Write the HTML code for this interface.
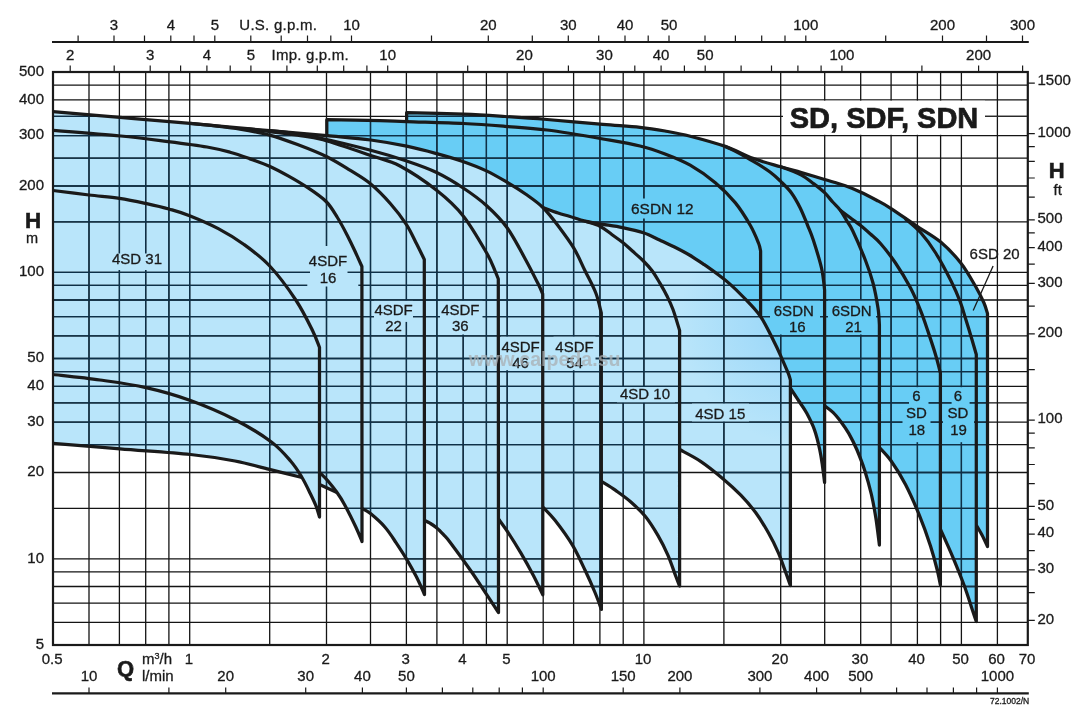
<!DOCTYPE html>
<html><head><meta charset="utf-8"><title>SD, SDF, SDN</title>
<style>html,body{margin:0;padding:0;background:#fff}body{width:1090px;height:717px;overflow:hidden}svg{display:block;will-change:transform;opacity:.9999}text{font-family:"Liberation Sans",sans-serif;fill:#1a1a1a;stroke:#1a1a1a;stroke-width:.3px}.b{font-weight:bold}</style></head><body>
<svg width="1090" height="717" viewBox="0 0 1090 717">
<defs><radialGradient id="lg" gradientUnits="userSpaceOnUse" cx="805" cy="320" r="125"><stop offset="0" stop-color="#92d5f8"/><stop offset="0.4" stop-color="#a3dbf9"/><stop offset="1" stop-color="#b9e5fa"/></radialGradient></defs>
<rect width="1090" height="717" fill="#fff"/>
<path d="M53 111.7C64.2 112.7 97.2 115.5 120 117.4C142.8 119.4 165.1 121.2 190 123.4C214.9 125.6 246.8 128.7 269.6 130.7C292.4 132.7 310 134 326.8 135.6C343.6 137.2 357.4 138.2 370.7 140C384 141.8 395.7 143.9 406.6 146.2C417.6 148.5 427 151 436.4 153.6C445.8 156.2 454.5 158.6 462.8 161.5C471.1 164.4 479 167.4 486.4 170.9C493.8 174.4 500.8 178.6 507.3 182.4C513.8 186.2 519.6 189.8 525.5 194C531.4 198.2 537.5 202.2 542.9 207.5L542.9 207.5C545.4 208.4 553.6 211.5 558.1 213C562.6 214.5 565.5 215.1 570 216.5C574.5 217.9 580 220 585 221.2C590 222.4 593.6 222.8 599.9 223.9C606.1 225 615.2 226.1 622.5 227.6C629.8 229.1 637.2 230.7 643.4 232.8C649.6 234.9 654.4 237.6 659.6 240C664.8 242.4 669.5 244.5 674.5 247C679.5 249.5 684.4 252.1 689.4 255C694.4 257.9 699.3 261.3 704.3 264.7C709.3 268.1 715 272.3 719.3 275.5C723.6 278.7 726.2 280.7 730 284.1C733.8 287.5 737.3 290.7 742.3 296C747.3 301.3 754.9 308.4 760.1 315.9C765.3 323.4 770.1 333.9 773.7 341C777.4 348.1 779.6 353.4 782 358.8C784.4 364.2 786.9 369.9 788.3 373.4C789.7 376.9 790 378.9 790.4 380L790.4 585.5L790.4 585.5C789.6 583.4 787.9 578.4 785.9 573C783.9 567.6 781.3 559.6 778.4 552.9C775.5 546.2 772.2 539.5 768.4 532.8C764.6 526.1 760.4 519.1 755.8 512.8C751.2 506.5 746.2 500.8 740.8 495.2C735.4 489.6 729.9 484.5 723.2 478.9C716.5 473.2 707.9 466.2 700.6 461.3C693.3 456.4 683.1 451.5 679.6 449.5L679.6 586L679.6 586C678.9 584.2 677.4 580.6 675.5 575.5C673.6 570.4 670.9 562.1 668 555.4C665.1 548.7 661.7 541.9 657.9 535.4C654.1 528.9 650 522.1 645.4 516.5C640.8 510.9 635.3 505.9 630.3 501.5C625.3 497.1 620.1 493.6 615.3 490.2C610.5 486.8 603.7 482.9 601.4 481.4L601.4 609.4L601.4 609.4C600.4 606.7 597.9 599.5 595.2 593C592.5 586.5 589 578.4 585.2 570.5C581.4 562.6 577.6 553.8 572.6 545.4C567.6 537 560 526.7 555 520.3C550 513.9 544.8 509.2 542.8 507L542.8 594.8L542.8 594.8C541.2 591.6 537.1 582.5 533.4 575.5C529.7 568.5 525 560 520.8 552.9C516.6 545.8 512 538.4 508.3 532.8C504.6 527.1 500.1 521.3 498.5 519L498.5 612.6L498.5 612.6C496.4 609.4 490.3 600.1 485.7 593.1C481.1 586.1 476.5 578.9 470.6 570.5C464.8 562.1 455.1 548.9 450.6 542.9C446.1 536.9 445.8 537.1 443.5 534.6C441.2 532.1 439.1 529.8 436.8 527.9C434.6 526 432.1 524.5 430 523.2C427.9 521.9 425.4 520.8 424.5 520.3L424.5 594.5L424.5 594.5C424.2 593.9 424.2 593.7 422.8 590.6C421.4 587.5 418.7 581.3 416 576.1C413.3 570.9 410 565 406.7 559.4C403.4 553.8 399.6 548 396 542.6C392.4 537.2 389.1 531.8 384.8 527C380.6 522.2 374.3 516.7 370.5 513.6C366.7 510.5 363.4 509.4 362 508.5L362 541.5L362 541.5C361 539.1 358.7 533.1 355.8 527C352.9 520.9 347.7 510.4 344.6 504.7C341.5 498.9 339.8 496.4 337 492.5L319.5 484.6L319.5 517L319.5 517C318.9 515.2 317.6 510 316 506C314.4 502 312.3 497.8 310 493C307.7 488.2 305.2 482.8 302 477.5L302 477.5C296.9 476.2 282.6 472.6 271.4 469.9C260.2 467.1 248.5 463.6 235 461C221.5 458.4 209.7 456.5 190.5 454.5C171.3 452.5 142.9 450.7 120 448.8C97.1 446.9 64.2 444.3 53 443.4Z" fill="url(#lg)"/>
<path d="M326.8 135.6L326.8 119.7L326.8 119.7C335.7 119.8 366.7 120.3 380 120.6C393.3 120.9 392.7 121.1 406.6 121.6L406.6 112.7L406.6 112.7C416.1 113 447.2 113.6 463.6 114.2C480 114.8 491.1 115.6 505 116.5C518.9 117.4 530.7 118.2 547 119.5C563.3 120.8 587.5 123 603 124.3C618.5 125.6 629.7 126.2 640 127.3C650.3 128.4 656.6 129.5 665 131C673.4 132.5 680.2 133.6 690.2 136.2C700.2 138.8 714.8 142.7 725.3 146.4C735.8 150.1 743.7 154.9 752.9 158.3C762.1 161.7 772.6 164.4 780.7 166.8C788.8 169.2 794.1 170.5 801.4 172.6C808.7 174.7 817.3 177.3 824.6 179.5C831.9 181.7 839.3 183.7 845.3 185.8C851.2 187.9 855.1 189.6 860.3 192C865.5 194.4 871.5 197.5 876.6 200.2C881.7 202.9 884.2 204.1 890.7 208.3C897.2 212.5 907.3 219.7 915.6 225.3C923.9 230.9 933.2 235.7 940.7 242C948.2 248.3 954.9 255.5 960.8 263C966.7 270.5 972 280.3 975.9 287C979.8 293.7 982.1 298.6 984 303C985.9 307.4 986.9 311.8 987.5 313.5L987.5 546.5L987.5 546.5C986.6 544.6 983.9 538.6 982 535C980.1 531.4 977.2 526.7 976.3 525L976.3 621.5L976.3 621.5C975.6 619.6 974.4 616.1 972.4 610C970.4 603.9 967.3 593.8 964 585C960.7 576.2 956.7 566.4 952.8 557.1C948.9 547.8 942.5 533.9 940.4 529.2L940.4 585L940.4 585C939.9 582.7 939.1 577.5 937.5 571C935.9 564.5 933.5 555.2 930.5 545.9C927.5 536.6 923.6 525.5 919.4 515.3C915.2 505.1 910.2 493.7 905.5 484.6C900.8 475.5 895.4 467 891 460.8C886.6 454.6 881.3 449.7 879.4 447.5L879.4 545L879.4 545C878.8 540.5 877.2 526.7 875.9 518.3C874.6 509.9 873.2 502.4 871.4 494.5C869.5 486.6 867.2 478.2 864.8 470.7C862.4 463.2 859.4 455.7 856.8 449.5C854.1 443.3 851.5 438.2 848.9 433.6C846.2 429 843.5 425.2 840.9 421.7C838.2 418.2 835.7 415 833 412.4C830.3 409.8 826 406.9 824.6 405.8L824.6 482.5L824.6 482.5C824.2 479.6 823.2 470.9 822.4 465.4C821.6 459.9 821 455.5 819.7 449.5C818.4 443.5 816.6 435.7 814.4 429.6C812.2 423.5 809.1 417.7 806.5 412.8C803.9 407.9 801.2 404.6 798.5 400.5C795.8 396.4 791.8 390.3 790.4 388.3L790.4 380L790.4 380C790 378.9 789.7 376.9 788.3 373.4C786.9 369.9 784.4 364.2 782 358.8C779.6 353.4 777.4 348.1 773.7 341C770.1 333.9 765.3 323.4 760.1 315.9C754.9 308.4 747.3 301.3 742.3 296C737.3 290.7 733.8 287.5 730 284.1C726.2 280.7 723.6 278.7 719.3 275.5C715 272.3 709.3 268.1 704.3 264.7C699.3 261.3 694.4 257.9 689.4 255C684.4 252.1 679.5 249.5 674.5 247C669.5 244.5 664.8 242.4 659.6 240C654.4 237.6 649.6 234.9 643.4 232.8C637.2 230.7 629.8 229.1 622.5 227.6C615.2 226.1 606.1 225 599.9 223.9C593.6 222.8 590 222.4 585 221.2C580 220 574.5 217.9 570 216.5C565.5 215.1 562.6 214.5 558.1 213C553.6 211.5 545.4 208.4 542.9 207.5L542.9 207.5C537.5 202.2 531.4 198.2 525.5 194C519.6 189.8 513.8 186.2 507.3 182.4C500.8 178.6 493.8 174.4 486.4 170.9C479 167.4 471.1 164.4 462.8 161.5C454.5 158.6 445.8 156.2 436.4 153.6C427 151 417.6 148.5 406.6 146.2C395.7 143.9 384 141.8 370.7 140C357.4 138.2 343.6 137.2 326.8 135.6Z" fill="#68cdf5"/>
<path d="M89 72V645M119.4 72V645M145.7 72V645M168.9 72V645M189.7 72V645M269.7 72V645M326.5 72V645M370.5 72V645M406.4 72V645M436.9 72V645M463.2 72V645M486.4 72V645M507.2 72V645M543.2 72V645M573.6 72V645M599.9 72V645M623.2 72V645M643.9 72V645M723.9 72V645M780.7 72V645M824.7 72V645M860.7 72V645M891.1 72V645M917.4 72V645M940.6 72V645M961.4 72V645M997.4 72V645M53 622.3H1027.8M53 603.1H1027.8M53 586.5H1027.8M53 571.9H1027.8M53 558.8H1027.8M53 508.3H1027.8M53 472.5H1027.8M53 444.7H1027.8M53 422.1H1027.8M53 402.9H1027.8M53 386.3H1027.8M53 371.6H1027.8M53 358.5H1027.8M53 335.8H1027.8M53 316.6H1027.8M53 300H1027.8M53 285.4H1027.8M53 272.3H1027.8M53 221.8H1027.8M53 186H1027.8M53 158.2H1027.8M53 135.6H1027.8M53 116.4H1027.8M53 99.8H1027.8M53 85.1H1027.8" stroke="#141414" stroke-width="1.3" fill="none"/>
<clipPath id="cp"><path d="M53 111.7C64.2 112.7 97.2 115.5 120 117.4C142.8 119.4 165.1 121.2 190 123.4C214.9 125.6 246.8 128.7 269.6 130.7C292.4 132.7 310 134 326.8 135.6C343.6 137.2 357.4 138.2 370.7 140C384 141.8 395.7 143.9 406.6 146.2C417.6 148.5 427 151 436.4 153.6C445.8 156.2 454.5 158.6 462.8 161.5C471.1 164.4 479 167.4 486.4 170.9C493.8 174.4 500.8 178.6 507.3 182.4C513.8 186.2 519.6 189.8 525.5 194C531.4 198.2 537.5 202.2 542.9 207.5L542.9 207.5C545.4 208.4 553.6 211.5 558.1 213C562.6 214.5 565.5 215.1 570 216.5C574.5 217.9 580 220 585 221.2C590 222.4 593.6 222.8 599.9 223.9C606.1 225 615.2 226.1 622.5 227.6C629.8 229.1 637.2 230.7 643.4 232.8C649.6 234.9 654.4 237.6 659.6 240C664.8 242.4 669.5 244.5 674.5 247C679.5 249.5 684.4 252.1 689.4 255C694.4 257.9 699.3 261.3 704.3 264.7C709.3 268.1 715 272.3 719.3 275.5C723.6 278.7 726.2 280.7 730 284.1C733.8 287.5 737.3 290.7 742.3 296C747.3 301.3 754.9 308.4 760.1 315.9C765.3 323.4 770.1 333.9 773.7 341C777.4 348.1 779.6 353.4 782 358.8C784.4 364.2 786.9 369.9 788.3 373.4C789.7 376.9 790 378.9 790.4 380L790.4 585.5L790.4 585.5C789.6 583.4 787.9 578.4 785.9 573C783.9 567.6 781.3 559.6 778.4 552.9C775.5 546.2 772.2 539.5 768.4 532.8C764.6 526.1 760.4 519.1 755.8 512.8C751.2 506.5 746.2 500.8 740.8 495.2C735.4 489.6 729.9 484.5 723.2 478.9C716.5 473.2 707.9 466.2 700.6 461.3C693.3 456.4 683.1 451.5 679.6 449.5L679.6 586L679.6 586C678.9 584.2 677.4 580.6 675.5 575.5C673.6 570.4 670.9 562.1 668 555.4C665.1 548.7 661.7 541.9 657.9 535.4C654.1 528.9 650 522.1 645.4 516.5C640.8 510.9 635.3 505.9 630.3 501.5C625.3 497.1 620.1 493.6 615.3 490.2C610.5 486.8 603.7 482.9 601.4 481.4L601.4 609.4L601.4 609.4C600.4 606.7 597.9 599.5 595.2 593C592.5 586.5 589 578.4 585.2 570.5C581.4 562.6 577.6 553.8 572.6 545.4C567.6 537 560 526.7 555 520.3C550 513.9 544.8 509.2 542.8 507L542.8 594.8L542.8 594.8C541.2 591.6 537.1 582.5 533.4 575.5C529.7 568.5 525 560 520.8 552.9C516.6 545.8 512 538.4 508.3 532.8C504.6 527.1 500.1 521.3 498.5 519L498.5 612.6L498.5 612.6C496.4 609.4 490.3 600.1 485.7 593.1C481.1 586.1 476.5 578.9 470.6 570.5C464.8 562.1 455.1 548.9 450.6 542.9C446.1 536.9 445.8 537.1 443.5 534.6C441.2 532.1 439.1 529.8 436.8 527.9C434.6 526 432.1 524.5 430 523.2C427.9 521.9 425.4 520.8 424.5 520.3L424.5 594.5L424.5 594.5C424.2 593.9 424.2 593.7 422.8 590.6C421.4 587.5 418.7 581.3 416 576.1C413.3 570.9 410 565 406.7 559.4C403.4 553.8 399.6 548 396 542.6C392.4 537.2 389.1 531.8 384.8 527C380.6 522.2 374.3 516.7 370.5 513.6C366.7 510.5 363.4 509.4 362 508.5L362 541.5L362 541.5C361 539.1 358.7 533.1 355.8 527C352.9 520.9 347.7 510.4 344.6 504.7C341.5 498.9 339.8 496.4 337 492.5L319.5 484.6L319.5 517L319.5 517C318.9 515.2 317.6 510 316 506C314.4 502 312.3 497.8 310 493C307.7 488.2 305.2 482.8 302 477.5L302 477.5C296.9 476.2 282.6 472.6 271.4 469.9C260.2 467.1 248.5 463.6 235 461C221.5 458.4 209.7 456.5 190.5 454.5C171.3 452.5 142.9 450.7 120 448.8C97.1 446.9 64.2 444.3 53 443.4Z"/><path d="M326.8 135.6L326.8 119.7L326.8 119.7C335.7 119.8 366.7 120.3 380 120.6C393.3 120.9 392.7 121.1 406.6 121.6L406.6 112.7L406.6 112.7C416.1 113 447.2 113.6 463.6 114.2C480 114.8 491.1 115.6 505 116.5C518.9 117.4 530.7 118.2 547 119.5C563.3 120.8 587.5 123 603 124.3C618.5 125.6 629.7 126.2 640 127.3C650.3 128.4 656.6 129.5 665 131C673.4 132.5 680.2 133.6 690.2 136.2C700.2 138.8 714.8 142.7 725.3 146.4C735.8 150.1 743.7 154.9 752.9 158.3C762.1 161.7 772.6 164.4 780.7 166.8C788.8 169.2 794.1 170.5 801.4 172.6C808.7 174.7 817.3 177.3 824.6 179.5C831.9 181.7 839.3 183.7 845.3 185.8C851.2 187.9 855.1 189.6 860.3 192C865.5 194.4 871.5 197.5 876.6 200.2C881.7 202.9 884.2 204.1 890.7 208.3C897.2 212.5 907.3 219.7 915.6 225.3C923.9 230.9 933.2 235.7 940.7 242C948.2 248.3 954.9 255.5 960.8 263C966.7 270.5 972 280.3 975.9 287C979.8 293.7 982.1 298.6 984 303C985.9 307.4 986.9 311.8 987.5 313.5L987.5 546.5L987.5 546.5C986.6 544.6 983.9 538.6 982 535C980.1 531.4 977.2 526.7 976.3 525L976.3 621.5L976.3 621.5C975.6 619.6 974.4 616.1 972.4 610C970.4 603.9 967.3 593.8 964 585C960.7 576.2 956.7 566.4 952.8 557.1C948.9 547.8 942.5 533.9 940.4 529.2L940.4 585L940.4 585C939.9 582.7 939.1 577.5 937.5 571C935.9 564.5 933.5 555.2 930.5 545.9C927.5 536.6 923.6 525.5 919.4 515.3C915.2 505.1 910.2 493.7 905.5 484.6C900.8 475.5 895.4 467 891 460.8C886.6 454.6 881.3 449.7 879.4 447.5L879.4 545L879.4 545C878.8 540.5 877.2 526.7 875.9 518.3C874.6 509.9 873.2 502.4 871.4 494.5C869.5 486.6 867.2 478.2 864.8 470.7C862.4 463.2 859.4 455.7 856.8 449.5C854.1 443.3 851.5 438.2 848.9 433.6C846.2 429 843.5 425.2 840.9 421.7C838.2 418.2 835.7 415 833 412.4C830.3 409.8 826 406.9 824.6 405.8L824.6 482.5L824.6 482.5C824.2 479.6 823.2 470.9 822.4 465.4C821.6 459.9 821 455.5 819.7 449.5C818.4 443.5 816.6 435.7 814.4 429.6C812.2 423.5 809.1 417.7 806.5 412.8C803.9 407.9 801.2 404.6 798.5 400.5C795.8 396.4 791.8 390.3 790.4 388.3L790.4 380L790.4 380C790 378.9 789.7 376.9 788.3 373.4C786.9 369.9 784.4 364.2 782 358.8C779.6 353.4 777.4 348.1 773.7 341C770.1 333.9 765.3 323.4 760.1 315.9C754.9 308.4 747.3 301.3 742.3 296C737.3 290.7 733.8 287.5 730 284.1C726.2 280.7 723.6 278.7 719.3 275.5C715 272.3 709.3 268.1 704.3 264.7C699.3 261.3 694.4 257.9 689.4 255C684.4 252.1 679.5 249.5 674.5 247C669.5 244.5 664.8 242.4 659.6 240C654.4 237.6 649.6 234.9 643.4 232.8C637.2 230.7 629.8 229.1 622.5 227.6C615.2 226.1 606.1 225 599.9 223.9C593.6 222.8 590 222.4 585 221.2C580 220 574.5 217.9 570 216.5C565.5 215.1 562.6 214.5 558.1 213C553.6 211.5 545.4 208.4 542.9 207.5L542.9 207.5C537.5 202.2 531.4 198.2 525.5 194C519.6 189.8 513.8 186.2 507.3 182.4C500.8 178.6 493.8 174.4 486.4 170.9C479 167.4 471.1 164.4 462.8 161.5C454.5 158.6 445.8 156.2 436.4 153.6C427 151 417.6 148.5 406.6 146.2C395.7 143.9 384 141.8 370.7 140C357.4 138.2 343.6 137.2 326.8 135.6Z"/></clipPath>
<path d="M89 72V645M119.4 72V645M145.7 72V645M168.9 72V645M189.7 72V645M269.7 72V645M326.5 72V645M370.5 72V645M406.4 72V645M436.9 72V645M463.2 72V645M486.4 72V645M507.2 72V645M543.2 72V645M573.6 72V645M599.9 72V645M623.2 72V645M643.9 72V645M723.9 72V645M780.7 72V645M824.7 72V645M860.7 72V645M891.1 72V645M917.4 72V645M940.6 72V645M961.4 72V645M997.4 72V645M53 622.3H1027.8M53 603.1H1027.8M53 586.5H1027.8M53 571.9H1027.8M53 558.8H1027.8M53 508.3H1027.8M53 472.5H1027.8M53 444.7H1027.8M53 422.1H1027.8M53 402.9H1027.8M53 386.3H1027.8M53 371.6H1027.8M53 358.5H1027.8M53 335.8H1027.8M53 316.6H1027.8M53 300H1027.8M53 285.4H1027.8M53 272.3H1027.8M53 221.8H1027.8M53 186H1027.8M53 158.2H1027.8M53 135.6H1027.8M53 116.4H1027.8M53 99.8H1027.8M53 85.1H1027.8" stroke="#0d3048" stroke-width="1.3" fill="none" clip-path="url(#cp)"/>
<rect x="106" y="253.5" width="58" height="16.5" fill="url(#lg)"/>
<rect x="310" y="246" width="37.5" height="28" fill="url(#lg)"/>
<rect x="307.3" y="274" width="51" height="12.5" fill="url(#lg)"/>
<rect x="374" y="300.9" width="39" height="21" fill="url(#lg)"/>
<rect x="440" y="300.9" width="42.5" height="33.6" fill="url(#lg)"/>
<rect x="501" y="336.7" width="40" height="33.5" fill="url(#lg)"/>
<rect x="553.5" y="336.7" width="42" height="33.5" fill="url(#lg)"/>
<rect x="617" y="387" width="58" height="15.3" fill="url(#lg)"/>
<rect x="692" y="403.6" width="57" height="17.8" fill="url(#lg)"/>
<rect x="630" y="198.5" width="68" height="20" fill="#68cdf5"/>
<rect x="770" y="300.7" width="50" height="33.8" fill="#68cdf5"/>
<rect x="828" y="300.7" width="48" height="33.8" fill="#68cdf5"/>
<rect x="909" y="390" width="19.5" height="14" fill="#68cdf5"/>
<rect x="902.5" y="407" width="28" height="16" fill="#68cdf5"/>
<rect x="914" y="387.2" width="7" height="55" fill="#68cdf5"/>
<rect x="951.6" y="390" width="18" height="14" fill="#68cdf5"/>
<rect x="943" y="407" width="31" height="16" fill="#68cdf5"/>
<rect x="958" y="387.2" width="7" height="55" fill="#68cdf5"/>
<rect x="783" y="100.7" width="202" height="34.1" fill="#fff"/>
<g stroke="#1a1a1a" stroke-width="3.25" fill="none" stroke-linejoin="round" stroke-linecap="butt">
<path d="M53 111.7C64.2 112.7 97.2 115.5 120 117.4C142.8 119.4 165.1 121.2 190 123.4C214.9 125.6 246.8 128.7 269.6 130.7C292.4 132.7 310 134 326.8 135.6C343.6 137.2 357.4 138.2 370.7 140C384 141.8 395.7 143.9 406.6 146.2C417.6 148.5 427 151 436.4 153.6C445.8 156.2 454.5 158.6 462.8 161.5C471.1 164.4 479 167.4 486.4 170.9C493.8 174.4 500.8 178.6 507.3 182.4C513.8 186.2 519.6 189.8 525.5 194C531.4 198.2 537.5 202.2 542.9 207.5C548.3 212.8 553 219 558.1 225.8C563.2 232.6 569.3 240.7 573.8 248.1C578.3 255.5 581.2 262.9 584.9 270.5C588.6 278.1 593.3 286.4 596 293.5C598.7 300.6 600.4 309.8 601.3 313L601.4 609.4L601.4 609.4C600.4 606.7 597.9 599.5 595.2 593C592.5 586.5 589 578.4 585.2 570.5C581.4 562.6 577.6 553.8 572.6 545.4C567.6 537 560 526.7 555 520.3C550 513.9 544.8 509.2 542.8 507"/>
<path d="M269.6 130.7C273 131 281.6 131.6 290 132.8C298.4 134 306.6 135.1 320 138C333.4 140.9 356.3 146.5 370.7 150.3C385.1 154.1 395.6 157.3 406.6 161C417.6 164.7 427.2 168 436.6 172.5C446 177 454.9 182.5 463.2 188C471.5 193.5 479 198.8 486.4 205.5C493.8 212.2 500.8 219 507.3 228C513.8 237 520.4 250.2 525.5 259.5C530.6 268.8 535.1 277.8 538 283.5C540.9 289.2 541.9 292.2 542.7 294L542.8 594.8L542.8 594.8C541.2 591.6 537.1 582.5 533.4 575.5C529.7 568.5 525 560 520.8 552.9C516.6 545.8 512 538.4 508.3 532.8C504.6 527.1 500.1 521.3 498.5 519"/>
<path d="M245 128.6C254.2 129.6 261.2 130.5 270 131.6C278.8 132.7 288.7 133.7 297.5 135.1C306.3 136.5 310.8 136.4 323 139.8C335.2 143.2 357.9 151.1 370.7 155.5C383.5 159.9 389 160.2 400 166C411 171.8 426.1 182 436.6 190.3C447.1 198.6 454.9 205.5 463.2 215.9C471.5 226.3 481.1 243.3 486.4 252.5C491.7 261.7 493.2 266.9 495.2 271.3C497.2 275.7 497.8 277.7 498.3 279L498.5 612.6L498.5 612.6C496.4 609.4 490.3 600.1 485.7 593.1C481.1 586.1 476.5 578.9 470.6 570.5C464.8 562.1 455.1 548.9 450.6 542.9C446.1 536.9 445.8 537.1 443.5 534.6C441.2 532.1 439.1 529.8 436.8 527.9C434.6 526 432.1 524.5 430 523.2C427.9 521.9 425.4 520.8 424.5 520.3"/>
<path d="M190 123.4C194.2 123.8 206.7 124.9 215 125.9C223.3 126.9 230.9 127.7 240 129.2C249.1 130.7 260 132.5 269.6 135.1C279.2 137.7 288 141 297.5 144.6C307 148.2 318.1 152.5 326.8 156.8C335.5 161.1 342.6 165.7 349.9 170.2C357.2 174.7 363.9 178.4 370.7 184C377.5 189.6 384.6 197 390.5 203.7C396.4 210.4 401.9 217.6 406.3 224.3C410.7 231 413.7 238.2 416.7 244.1C419.7 250 423 256.9 424.3 259.5L424.5 594.5L424.5 594.5C424.2 593.9 424.2 593.7 422.8 590.6C421.4 587.5 418.7 581.3 416 576.1C413.3 570.9 410 565 406.7 559.4C403.4 553.8 399.6 548 396 542.6C392.4 537.2 389.1 531.8 384.8 527C380.6 522.2 374.3 516.7 370.5 513.6C366.7 510.5 363.4 509.4 362 508.5"/>
<path d="M53 130.4C64.3 131.3 101.6 134.1 120.8 136C140 137.9 153.6 139.8 168 141.6C182.4 143.4 196.7 145.2 207 147C217.3 148.8 222.9 150.3 230 152.2C237.1 154.1 242.8 156.2 249.5 158.6C256.2 161 263.5 163.5 270 166.4C276.5 169.3 282.2 172.5 288.6 176.1C295 179.7 301.9 183.7 308.1 187.9C314.4 192.1 321.2 196.6 326.1 201.5C331 206.4 333.9 211.9 337.4 217.5C340.9 223.1 344.3 229.6 347.2 235.2C350.1 240.8 352.6 246.1 355 251.3C357.4 256.5 360.8 264 361.9 266.5L362 541.5L362 541.5C361 539.1 358.7 533.1 355.8 527C352.9 520.9 347.7 510.4 344.6 504.7C341.5 498.9 339.8 496.4 337 492.5C334.2 488.6 330.9 484.4 328 481C325.1 477.6 320.9 473.8 319.5 472.3"/>
<path d="M319.5 484.6C322.4 485.9 334.1 491.2 337 492.5"/>
<path d="M53 190.5C59 191.2 77.9 193.7 89 195C100.1 196.3 110 196.9 119.4 198.3C128.8 199.7 137.4 201.6 145.6 203.4C153.8 205.2 161.5 206.9 168.8 209C176.1 211.1 181.3 212.4 189.6 215.7C197.8 219 209.2 223.8 218.3 228.6C227.4 233.4 235.4 238.3 244 244.5C252.6 250.7 261.1 256.8 269.7 266C278.3 275.2 288.7 289.2 295.8 300C302.9 310.8 308.6 322.6 312.5 330.5C316.4 338.4 318.3 344.5 319.5 347.3L319.5 517L319.5 517C318.9 515.2 317.6 510 316 506C314.4 502 312.3 497.8 310 493C307.7 488.2 305.2 482.8 302 477.5C298.8 472.2 296.1 467.4 291 461.5C285.9 455.6 280.7 449 271.4 442C262.1 435 248.5 426.6 235 419.7C221.5 412.8 205.3 405.9 190.5 400.5C175.7 395.1 161.1 391 146 387.6C130.9 384.2 115.5 382.2 100 380C84.5 377.8 60.8 375.4 53 374.5"/>
<path d="M53 443.4C64.2 444.3 97.1 446.9 120 448.8C142.9 450.7 171.3 452.5 190.5 454.5C209.7 456.5 221.5 458.4 235 461C248.5 463.6 260.2 467.1 271.4 469.9C282.6 472.6 296.9 476.2 302 477.5"/>
<path d="M542.9 207.5C545.4 208.4 553.6 211.5 558.1 213C562.6 214.5 565.5 215.1 570 216.5C574.5 217.9 580 220 585 221.2C590 222.4 593.6 222.8 599.9 223.9C606.1 225 615.2 226.1 622.5 227.6C629.8 229.1 637.2 230.7 643.4 232.8C649.6 234.9 654.4 237.6 659.6 240C664.8 242.4 669.5 244.5 674.5 247C679.5 249.5 684.4 252.1 689.4 255C694.4 257.9 699.3 261.3 704.3 264.7C709.3 268.1 715 272.3 719.3 275.5C723.6 278.7 726.2 280.7 730 284.1C733.8 287.5 737.3 290.7 742.3 296C747.3 301.3 754.9 308.4 760.1 315.9C765.3 323.4 770.1 333.9 773.7 341C777.4 348.1 779.6 353.4 782 358.8C784.4 364.2 786.9 369.9 788.3 373.4C789.7 376.9 790 378.9 790.4 380L790.4 585.5L790.4 585.5C789.6 583.4 787.9 578.4 785.9 573C783.9 567.6 781.3 559.6 778.4 552.9C775.5 546.2 772.2 539.5 768.4 532.8C764.6 526.1 760.4 519.1 755.8 512.8C751.2 506.5 746.2 500.8 740.8 495.2C735.4 489.6 729.9 484.5 723.2 478.9C716.5 473.2 707.9 466.2 700.6 461.3C693.3 456.4 683.1 451.5 679.6 449.5"/>
<path d="M585 221.2C590 222.8 595.4 224 599.9 226.2C604.4 228.4 608 231.8 611.8 234.5C615.6 237.2 619 239.5 622.5 242.3C626 245.1 629.2 248.2 632.7 251.3C636.2 254.4 640.2 257.8 643.4 261C646.6 264.2 649.4 267.1 652.1 270.7C654.8 274.3 657.1 278.4 659.6 282.6C662.1 286.8 664.8 291.5 667 296C669.2 300.5 670.9 303.8 673 309.5C675.1 315.2 678.5 326.9 679.6 330.4L679.6 586L679.6 586C678.9 584.2 677.4 580.6 675.5 575.5C673.6 570.4 670.9 562.1 668 555.4C665.1 548.7 661.7 541.9 657.9 535.4C654.1 528.9 650 522.1 645.4 516.5C640.8 510.9 635.3 505.9 630.3 501.5C625.3 497.1 620.1 493.6 615.3 490.2C610.5 486.8 603.7 482.9 601.4 481.4"/>
<path d="M326.8 136L326.8 119.7L326.8 119.7C335.7 119.8 366.7 120.3 380 120.6C393.3 120.9 392.7 121.1 406.6 121.6C420.5 122.1 447.2 122.7 463.6 123.5C480 124.3 491.1 125.2 505 126.3C518.9 127.4 530.7 127.9 547 130C563.3 132.1 587.5 136.3 603 139C618.5 141.7 629.7 143.5 640 146C650.3 148.5 656.6 150.8 665 154C673.4 157.2 681.8 160.4 690.2 165.2C698.6 170 707.8 176.5 715.3 182.8C722.8 189.1 729.5 195.8 735.4 202.9C741.2 210 746.5 218.8 750.4 225.5C754.2 232.2 756.8 238.8 758.5 243C760.2 247.2 760.2 249.7 760.6 251L760.6 316.5"/>
<path d="M406.6 122L406.6 112.7L406.6 112.7C416.1 113 447.2 113.6 463.6 114.2C480 114.8 491.1 115.6 505 116.5C518.9 117.4 530.7 118.2 547 119.5C563.3 120.8 587.5 123 603 124.3C618.5 125.6 629.7 126.2 640 127.3C650.3 128.4 656.6 129.5 665 131C673.4 132.5 680.2 133.6 690.2 136.2C700.2 138.8 714.8 142.7 725.3 146.4C735.8 150.1 743.7 154.9 752.9 158.3C762.1 161.7 772.6 164.4 780.7 166.8C788.8 169.2 794.1 170.5 801.4 172.6C808.7 174.7 817.3 177.3 824.6 179.5C831.9 181.7 839.3 183.7 845.3 185.8C851.2 187.9 855.1 189.6 860.3 192C865.5 194.4 871.5 197.5 876.6 200.2C881.7 202.9 884.2 204.1 890.7 208.3C897.2 212.5 907.3 219.7 915.6 225.3C923.9 230.9 933.2 235.7 940.7 242C948.2 248.3 954.9 255.5 960.8 263C966.7 270.5 972 280.3 975.9 287C979.8 293.7 982.1 298.6 984 303C985.9 307.4 986.9 311.8 987.5 313.5L987.5 546.5L987.5 546.5C986.6 544.6 983.9 538.6 982 535C980.1 531.4 977.2 526.7 976.3 525"/>
<path d="M725.3 146.6C735.8 150.8 745.4 157 752.9 161.2C760.4 165.4 765.4 168.6 770 172C774.6 175.4 777.2 178 780.7 181.4C784.2 184.8 788.1 188.3 791.3 192.7C794.5 197.1 797.4 202.3 800.1 207.7C802.8 213.1 805.4 219.9 807.6 225.3C809.8 230.7 811 232.9 813.3 240C815.6 247.1 819.6 259.7 821.5 268C823.4 276.3 824.1 286.3 824.6 290L824.6 482.5L824.6 482.5C824.2 479.6 823.2 470.9 822.4 465.4C821.6 459.9 821 455.5 819.7 449.5C818.4 443.5 816.6 435.7 814.4 429.6C812.2 423.5 809.1 417.7 806.5 412.8C803.9 407.9 801.2 404.6 798.5 400.5C795.8 396.4 791.8 390.3 790.4 388.3"/>
<path d="M780.7 166.8C788.8 169.6 795.9 172.2 801.4 175.1C806.9 177.9 810 181 813.9 183.9C817.8 186.8 821.5 189.7 824.6 192.7C827.7 195.7 830.1 199.1 832.7 202C835.3 204.9 838 207.1 840.3 210.2C842.6 213.2 844.4 216.8 846.5 220.3C848.6 223.8 849.6 224.3 852.8 231C856 237.7 862.1 251.8 865.5 260.5C868.9 269.2 870.9 275.1 873 283C875.1 290.9 876.9 301 878 308C879.1 315 879.2 322.2 879.4 325L879.4 545L879.4 545C878.8 540.5 877.2 526.7 875.9 518.3C874.6 509.9 873.2 502.4 871.4 494.5C869.5 486.6 867.2 478.2 864.8 470.7C862.4 463.2 859.4 455.7 856.8 449.5C854.1 443.3 851.5 438.2 848.9 433.6C846.2 429 843.5 425.2 840.9 421.7C838.2 418.2 835.7 415 833 412.4C830.3 409.8 826 406.9 824.6 405.8"/>
<path d="M840.3 210.2C842 211.5 847 215.3 850.3 217.8C853.6 220.3 856.9 222.6 860.3 225.3C863.6 228 867 231 870.4 234C873.8 237 876.3 238.7 880.5 243.5C884.7 248.3 890.5 255.6 895.5 263C900.5 270.4 906.4 280.2 910.6 288.1C914.8 296.1 917.8 303.7 920.6 310.7C923.4 317.7 925 322.6 927.5 330C930 337.4 933.6 348 935.7 355.2C937.9 362.4 939.6 370 940.4 373L940.4 585L940.4 585C939.9 582.7 939.1 577.5 937.5 571C935.9 564.5 933.5 555.2 930.5 545.9C927.5 536.6 923.6 525.5 919.4 515.3C915.2 505.1 910.2 493.7 905.5 484.6C900.8 475.5 895.4 467 891 460.8C886.6 454.6 881.3 449.7 879.4 447.5"/>
<path d="M905 218.5C910 222.5 915.5 226.8 920.6 232.5C925.7 238.2 930.7 245 935.7 253C940.7 261 946.7 272.4 950.8 280.6C954.9 288.8 957.8 295.4 960.3 302C962.8 308.6 964 313.7 966 320C968 326.3 970.4 334.2 972.1 340C973.8 345.8 975.6 352.1 976.3 354.5L976.3 621.5L976.3 621.5C975.6 619.6 974.4 616.1 972.4 610C970.4 603.9 967.3 593.8 964 585C960.7 576.2 956.7 566.4 952.8 557.1C948.9 547.8 942.5 533.9 940.4 529.2"/>
</g>
<rect x="53" y="72" width="974.8" height="573" fill="none" stroke="#1a1a1a" stroke-width="2.2"/>
<path d="M52 42H1028.8" stroke="#1a1a1a" stroke-width="2.2" fill="none"/>
<path d="M78.1 35.5V42M114 35.5V42M144.5 35.5V42M170.8 35.5V42M194 35.5V42M214.8 35.5V42M250.8 35.5V42M281.2 35.5V42M307.5 35.5V42M330.8 35.5V42M351.5 35.5V42M431.5 35.5V42M488.3 35.5V42M532.3 35.5V42M568.3 35.5V42M598.7 35.5V42M625 35.5V42M648.2 35.5V42M669 35.5V42M705 35.5V42M735.4 35.5V42M761.7 35.5V42M785 35.5V42M805.8 35.5V42M885.7 35.5V42M942.5 35.5V42M986.5 35.5V42M1022.5 35.5V42" stroke="#1a1a1a" stroke-width="1.2" fill="none"/>
<path d="M70.2 65.5V72M114.2 65.5V72M150.2 65.5V72M180.6 65.5V72M206.9 65.5V72M230.2 65.5V72M250.9 65.5V72M286.9 65.5V72M317.3 65.5V72M343.7 65.5V72M366.9 65.5V72M387.7 65.5V72M467.7 65.5V72M524.4 65.5V72M568.4 65.5V72M604.4 65.5V72M634.8 65.5V72M661.1 65.5V72M684.4 65.5V72M705.2 65.5V72M741.1 65.5V72M771.5 65.5V72M797.9 65.5V72M821.1 65.5V72M841.9 65.5V72M921.9 65.5V72M978.6 65.5V72M1022.6 65.5V72" stroke="#1a1a1a" stroke-width="1.2" fill="none"/>
<path d="M52 693.4H1028.8" stroke="#1a1a1a" stroke-width="2.2" fill="none"/>
<path d="M89 687.5V693M168.9 687.5V693M225.7 687.5V693M305.7 687.5V693M362.4 687.5V693M406.4 687.5V693M442.4 687.5V693M472.8 687.5V693M499.2 687.5V693M522.4 687.5V693M543.2 687.5V693M623.2 687.5V693M679.9 687.5V693M759.9 687.5V693M816.6 687.5V693M860.7 687.5V693M896.6 687.5V693M927 687.5V693M953.4 687.5V693M976.6 687.5V693M997.4 687.5V693" stroke="#1a1a1a" stroke-width="1.2" fill="none"/>
<path d="M1027.8 620.3H1034.8M1027.8 592.6H1034.8M1027.8 569.9H1034.8M1027.8 550.7H1034.8M1027.8 534.1H1034.8M1027.8 519.4H1034.8M1027.8 506.3H1034.8M1027.8 483.6H1034.8M1027.8 464.5H1034.8M1027.8 447.8H1034.8M1027.8 433.2H1034.8M1027.8 420.1H1034.8M1027.8 369.6H1034.8M1027.8 333.8H1034.8M1027.8 306.1H1034.8M1027.8 283.4H1034.8M1027.8 264.2H1034.8M1027.8 247.6H1034.8M1027.8 232.9H1034.8M1027.8 219.8H1034.8M1027.8 197.1H1034.8M1027.8 178H1034.8M1027.8 161.3H1034.8M1027.8 146.7H1034.8M1027.8 133.6H1034.8M1027.8 83.1H1034.8" stroke="#1a1a1a" stroke-width="1.2" fill="none"/>
<text x="44" y="75.8" font-size="15" text-anchor="end">500</text>
<text x="44" y="103.6" font-size="15" text-anchor="end">400</text>
<text x="44" y="139.4" font-size="15" text-anchor="end">300</text>
<text x="44" y="189.8" font-size="15" text-anchor="end">200</text>
<text x="44" y="276.1" font-size="15" text-anchor="end">100</text>
<text x="44" y="362.3" font-size="15" text-anchor="end">50</text>
<text x="44" y="390.1" font-size="15" text-anchor="end">40</text>
<text x="44" y="425.9" font-size="15" text-anchor="end">30</text>
<text x="44" y="476.3" font-size="15" text-anchor="end">20</text>
<text x="44" y="562.6" font-size="15" text-anchor="end">10</text>
<text x="44" y="648.8" font-size="15" text-anchor="end">5</text>
<text x="1037.5" y="84.9" font-size="15" text-anchor="start">1500</text>
<text x="1037.5" y="136.8" font-size="15" text-anchor="start">1000</text>
<text x="1037.5" y="223" font-size="15" text-anchor="start">500</text>
<text x="1037.5" y="250.8" font-size="15" text-anchor="start">400</text>
<text x="1037.5" y="286.6" font-size="15" text-anchor="start">300</text>
<text x="1037.5" y="337" font-size="15" text-anchor="start">200</text>
<text x="1037.5" y="423.3" font-size="15" text-anchor="start">100</text>
<text x="1037.5" y="509.5" font-size="15" text-anchor="start">50</text>
<text x="1037.5" y="537.3" font-size="15" text-anchor="start">40</text>
<text x="1037.5" y="573.1" font-size="15" text-anchor="start">30</text>
<text x="1037.5" y="623.5" font-size="15" text-anchor="start">20</text>
<text x="52.2" y="663.6" font-size="15" text-anchor="middle">0.5</text>
<text x="188.9" y="663.6" font-size="15" text-anchor="middle">1</text>
<text x="325.7" y="663.6" font-size="15" text-anchor="middle">2</text>
<text x="405.6" y="663.6" font-size="15" text-anchor="middle">3</text>
<text x="462.4" y="663.6" font-size="15" text-anchor="middle">4</text>
<text x="506.4" y="663.6" font-size="15" text-anchor="middle">5</text>
<text x="643.1" y="663.6" font-size="15" text-anchor="middle">10</text>
<text x="779.9" y="663.6" font-size="15" text-anchor="middle">20</text>
<text x="859.9" y="663.6" font-size="15" text-anchor="middle">30</text>
<text x="916.6" y="663.6" font-size="15" text-anchor="middle">40</text>
<text x="960.6" y="663.6" font-size="15" text-anchor="middle">50</text>
<text x="996.6" y="663.6" font-size="15" text-anchor="middle">60</text>
<text x="1027" y="663.6" font-size="15" text-anchor="middle">70</text>
<text x="89" y="680.8" font-size="15" text-anchor="middle">10</text>
<text x="225.7" y="680.8" font-size="15" text-anchor="middle">20</text>
<text x="305.7" y="680.8" font-size="15" text-anchor="middle">30</text>
<text x="362.4" y="680.8" font-size="15" text-anchor="middle">40</text>
<text x="406.4" y="680.8" font-size="15" text-anchor="middle">50</text>
<text x="543.2" y="680.8" font-size="15" text-anchor="middle">100</text>
<text x="623.2" y="680.8" font-size="15" text-anchor="middle">150</text>
<text x="679.9" y="680.8" font-size="15" text-anchor="middle">200</text>
<text x="759.9" y="680.8" font-size="15" text-anchor="middle">300</text>
<text x="816.6" y="680.8" font-size="15" text-anchor="middle">400</text>
<text x="860.7" y="680.8" font-size="15" text-anchor="middle">500</text>
<text x="997.4" y="680.8" font-size="15" text-anchor="middle">1000</text>
<text x="114" y="30.3" font-size="15" text-anchor="middle">3</text>
<text x="170.8" y="30.3" font-size="15" text-anchor="middle">4</text>
<text x="214.8" y="30.3" font-size="15" text-anchor="middle">5</text>
<text x="351.5" y="30.3" font-size="15" text-anchor="middle">10</text>
<text x="488.3" y="30.3" font-size="15" text-anchor="middle">20</text>
<text x="568.3" y="30.3" font-size="15" text-anchor="middle">30</text>
<text x="625" y="30.3" font-size="15" text-anchor="middle">40</text>
<text x="669" y="30.3" font-size="15" text-anchor="middle">50</text>
<text x="805.8" y="30.3" font-size="15" text-anchor="middle">100</text>
<text x="942.5" y="30.3" font-size="15" text-anchor="middle">200</text>
<text x="1022.5" y="30.3" font-size="15" text-anchor="middle">300</text>
<text x="278.2" y="30.3" font-size="15" text-anchor="middle" letter-spacing="0.25">U.S. g.p.m.</text>
<text x="70.2" y="60.3" font-size="15" text-anchor="middle">2</text>
<text x="150.2" y="60.3" font-size="15" text-anchor="middle">3</text>
<text x="206.9" y="60.3" font-size="15" text-anchor="middle">4</text>
<text x="250.9" y="60.3" font-size="15" text-anchor="middle">5</text>
<text x="387.7" y="60.3" font-size="15" text-anchor="middle">10</text>
<text x="524.4" y="60.3" font-size="15" text-anchor="middle">20</text>
<text x="604.4" y="60.3" font-size="15" text-anchor="middle">30</text>
<text x="661.1" y="60.3" font-size="15" text-anchor="middle">40</text>
<text x="705.2" y="60.3" font-size="15" text-anchor="middle">50</text>
<text x="841.9" y="60.3" font-size="15" text-anchor="middle">100</text>
<text x="978.6" y="60.3" font-size="15" text-anchor="middle">200</text>
<text x="310.2" y="60.3" font-size="15" text-anchor="middle" letter-spacing="0.2">Imp. g.p.m.</text>
<text x="33" y="227.8" font-size="22.4" text-anchor="middle" class="b" style="stroke-width:.6px">H</text>
<text x="32" y="243.2" font-size="14.5" text-anchor="middle">m</text>
<text x="1056.7" y="177.6" font-size="22" text-anchor="middle" class="b" style="stroke-width:.6px">H</text>
<text x="1057.7" y="195.2" font-size="15" text-anchor="middle">ft</text>
<text x="125.5" y="676.2" font-size="22" text-anchor="middle" class="b" style="stroke-width:.6px">Q</text>
<text x="142" y="663.6" font-size="15">m<tspan font-size="9" dy="-5">3</tspan><tspan dy="5">/h</tspan></text>
<text x="142" y="680.8" font-size="15" text-anchor="start">l/min</text>
<text x="884" y="128" font-size="29" text-anchor="middle" class="b" style="stroke-width:.7px">SD, SDF, SDN</text>
<path d="M985 116.4H1027" stroke="#2a2a2a" stroke-width="1.1"/>
<text x="137" y="264" font-size="15" text-anchor="middle">4SD 31</text>
<text x="328" y="265.8" font-size="15" text-anchor="middle">4SDF</text>
<text x="328" y="282.8" font-size="15" text-anchor="middle">16</text>
<text x="393.6" y="315" font-size="15" text-anchor="middle">4SDF</text>
<text x="393.6" y="331.3" font-size="15" text-anchor="middle">22</text>
<text x="460.3" y="315" font-size="15" text-anchor="middle">4SDF</text>
<text x="460.3" y="331.3" font-size="15" text-anchor="middle">36</text>
<text x="520.6" y="352.3" font-size="15" text-anchor="middle">4SDF</text>
<text x="520.6" y="367.6" font-size="15" text-anchor="middle">46</text>
<text x="574.5" y="352.3" font-size="15" text-anchor="middle">4SDF</text>
<text x="574.5" y="367.6" font-size="15" text-anchor="middle">54</text>
<text x="645" y="399" font-size="15" text-anchor="middle">4SD 10</text>
<text x="720.3" y="418.5" font-size="15" text-anchor="middle">4SD 15</text>
<text x="662.3" y="213.6" font-size="15.4" text-anchor="middle">6SDN 12</text>
<text x="793.8" y="316" font-size="15" text-anchor="middle">6SDN</text>
<text x="797.3" y="332.3" font-size="15" text-anchor="middle">16</text>
<text x="851.7" y="316.3" font-size="15" text-anchor="middle">6SDN</text>
<text x="853.5" y="332.4" font-size="15" text-anchor="middle">21</text>
<text x="916.3" y="401.1" font-size="15" text-anchor="middle">6</text>
<text x="916.3" y="418.3" font-size="15" text-anchor="middle">SD</text>
<text x="916.8" y="435" font-size="15" text-anchor="middle">18</text>
<text x="958" y="401.1" font-size="15" text-anchor="middle">6</text>
<text x="958" y="418.3" font-size="15" text-anchor="middle">SD</text>
<text x="958.5" y="435" font-size="15" text-anchor="middle">19</text>
<text x="994.6" y="259.3" font-size="15" text-anchor="middle">6SD 20</text>
<path d="M993.1 266L973.2 310.5" stroke="#1a1a1a" stroke-width="1.3"/>
<text x="544.7" y="365.7" font-size="19.6" text-anchor="middle" class="b" style="fill:#a9afb3;fill-opacity:.75;stroke:none">www.calpeda.su</text>
<text x="1009.6" y="703.5" font-size="8.5" text-anchor="middle">72.1002/N</text>
</svg></body></html>
